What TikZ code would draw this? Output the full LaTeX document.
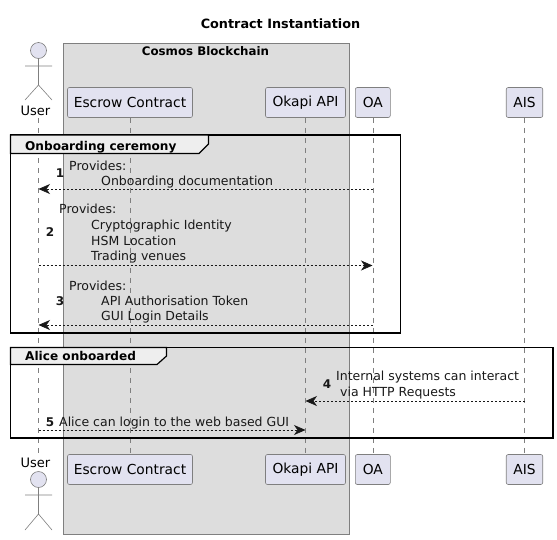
\documentclass[tikz,border=0pt]{standalone}
\usepackage{fontspec}
\setmainfont{DejaVu Sans}
\usetikzlibrary{arrows.meta}
\definecolor{partfill}{HTML}{E2E2F0}
\definecolor{partline}{HTML}{7F7F7F}
\definecolor{boxfill}{HTML}{DDDDDD}
\definecolor{tabfill}{HTML}{EEEEEE}
\definecolor{ink}{HTML}{181818}
\tikzset{
  partbox/.style={draw=partline,fill=partfill,line width=0.6pt,rounded corners=2pt,minimum height=30pt,inner sep=0pt,text=black,font=\fontsize{13.8}{16}\selectfont},
  lifeline/.style={draw=partline,line width=0.5pt,dash pattern=on 5pt off 5pt},
  actorline/.style={draw=partline,line width=0.6pt},
  actorhead/.style={draw=partline,fill=partfill,line width=0.6pt},
  actorlabel/.style={font=\fontsize{13}{16}\selectfont,inner sep=0pt,anchor=base},
  msgtext/.style={anchor=base west,inner sep=0pt,font=\fontsize{12.5}{14}\selectfont,text=ink},
  seqnum/.style={anchor=base,inner sep=0pt,font=\fontsize{12}{14}\selectfont\bfseries,text=ink},
  msg/.style={draw=ink,line width=0.6pt,dash pattern=on 2pt off 2pt,-{Stealth[inset=3.5pt,length=11.5pt,width=10pt,sep=0pt]}},
  framebox/.style={draw=black,line width=1.5pt},
  frametab/.style={draw=black,line width=1.2pt,fill=tabfill},
  framelabel/.style={anchor=base west,inner sep=0pt,font=\fontsize{12.1}{14}\selectfont\bfseries},
}
\begin{document}
\begin{tikzpicture}[x=1pt,y=-1pt]
\useasboundingbox (0,0) rectangle (557,539);
% grouping box
\draw[draw=partline,fill=boxfill,line width=0.6pt] (63.5,43.5) rectangle (349.5,534);
\node[anchor=base,inner sep=0pt,font=\fontsize{12.8}{15}\selectfont\bfseries] (title) at (280.5,28.5) {Contract Instantiation};
\node[anchor=base,inner sep=0pt,font=\fontsize{11.8}{14}\selectfont\bfseries] (cosmos) at (205.5,55.7) {Cosmos Blockchain};
% participants
\node[partbox,minimum width=125pt] (escT) at (130,102.5) {Escrow Contract};
\node[partbox,minimum width=80pt] (okaT) at (305.5,102.5) {Okapi API};
\node[partbox,minimum width=35pt] (oaT) at (372.8,102.5) {OA};
\node[partbox,minimum width=36.5pt] (aisT) at (524.5,102.5) {AIS};
\node[partbox,minimum width=125pt] (escB) at (130,469.5) {Escrow Contract};
\node[partbox,minimum width=80pt] (okaB) at (305.5,469.5) {Okapi API};
\node[partbox,minimum width=35pt] (oaB) at (372.8,469.5) {OA};
\node[partbox,minimum width=36.5pt] (aisB) at (524.5,469.5) {AIS};
% actors
\node[actorlabel] (usrT) at (35.5,115.5) {User};
\node[actorlabel] (usrB) at (35.5,467.5) {User};
\node[actorhead,circle,minimum size=16pt,inner sep=0pt] (headT) at (38.5,50.5) {};
\draw[actorline] (headT.south) -- (38.5,85) (25,66) -- (52,66) (25,100) -- (38.5,85) -- (52,100);
\node[actorhead,circle,minimum size=16pt,inner sep=0pt] (headB) at (38.5,479.5) {};
\draw[actorline] (headB.south) -- (38.5,514) (25,495) -- (52,495) (25,530) -- (38.5,514) -- (52,530);
% lifelines
\coordinate (usrTop) at (38.5,118);
\coordinate (usrBot) at (38.5,455);
\draw[lifeline] (usrTop) -- (usrBot);
\draw[lifeline] (escT.south) -- (escB.north);
\draw[lifeline] (okaT.south) -- (okaB.north);
\draw[lifeline] (oaT.south) -- (oaB.north);
\draw[lifeline] (aisT.south) -- (aisB.north);
% frames
\draw[framebox] (10.5,135) rectangle (400.5,333);
\draw[frametab] (10.5,135) -- (208.5,135) -- (208.5,144) -- (199,153.5) -- (10.5,153.5) -- cycle;
\node[framelabel] (f1) at (25,150) {Onboarding ceremony};
\draw[framebox] (10.5,347.5) rectangle (553,438);
\draw[frametab] (10.5,347.5) -- (166.5,347.5) -- (166.5,356) -- (157,364.5) -- (10.5,364.5) -- cycle;
\node[framelabel] (f2) at (25,360.7) {Alice onboarded};
% message end points
\coordinate (u1) at (38.5,189); \coordinate (o1) at (372.5,189);
\coordinate (u2) at (38.5,265.5); \coordinate (o2) at (372.5,265.5);
\coordinate (u3) at (38.5,325); \coordinate (o3) at (372.5,325);
\coordinate (a4) at (524.5,401); \coordinate (k4) at (305.5,401);
\coordinate (u5) at (38.5,430); \coordinate (k5) at (305.5,430);
\draw[msg] (o1) -- (u1);
\draw[msg] (u2) -- (o2);
\draw[msg] (o3) -- (u3);
\draw[msg] (a4) -- (k4);
\draw[msg] (u5) -- (k5);
% message texts
\node[seqnum] (n1) at (60,177.3) {1};
\node[msgtext] (t1a) at (69,170) {Provides:};
\node[msgtext] (t1b) at (101,185) {Onboarding documentation};
\node[seqnum] (n2) at (50,236) {2};
\node[msgtext] (t2a) at (59,213.5) {Provides:};
\node[msgtext] (t2b) at (91,229.3) {Cryptographic Identity};
\node[msgtext] (t2c) at (91,245) {HSM Location};
\node[msgtext] (t2d) at (91,260) {Trading venues};
\node[seqnum] (n3) at (60,305) {3};
\node[msgtext] (t3a) at (69,290) {Provides:};
\node[msgtext] (t3b) at (101,305) {API Authorisation Token};
\node[msgtext] (t3c) at (101,320) {GUI Login Details};
\node[seqnum] (n4) at (327,388) {4};
\node[msgtext] (t4a) at (336,380.7) {Internal systems can interact};
\node[msgtext] (t4b) at (340,396) {via HTTP Requests};
\node[seqnum] (n5) at (50,426) {5};
\node[msgtext] (t5) at (59,426) {Alice can login to the web based GUI};
\end{tikzpicture}
\end{document}
